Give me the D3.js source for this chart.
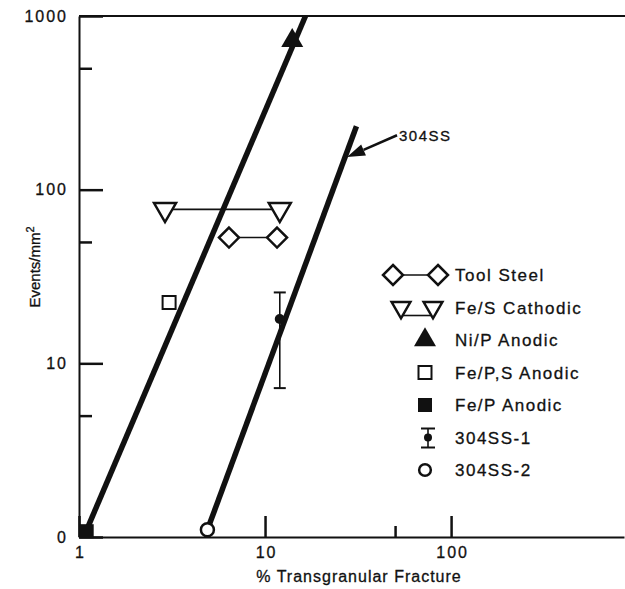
<!DOCTYPE html>
<html>
<head>
<meta charset="utf-8">
<script src="https://cdn.jsdelivr.net/npm/d3@7"></script>
<style>
  body { margin: 0; background: #fff; }
  text { font-family: 'Liberation Sans', Arial, Helvetica, sans-serif; fill: #111; stroke: #111; stroke-width: 0.3px; }
</style>
</head>
<body>
<script>
const width = 625
const height = 589

// tick values and labels
const xTicks = [1, 10, 100]
const xTickLabels = ['1', '10', '100']
const xMinorTicks = [50]
const yTicks = [1, 10, 100, 1000]
const yTickLabels = ['0', '10', '100', '1000']
const yMinorTicks = [5, 50, 500]

// series (x = % transgranular fracture, y = events/mm2)
const toolSteel = [{ x: 6.4, y: 53 }, { x: 11.6, y: 53 }]
const feSCathodic = [{ x: 2.9, y: 77 }, { x: 12, y: 77 }]
const niPAnodic = [{ x: 14, y: 720 }]
const fePSAnodic = [{ x: 3.05, y: 22.4 }]
const fePAnodic = [{ x: 1.1, y: 1.08 }]
const ss304One = [{ x: 12, y: 18, lo: 7.2, hi: 25.6 }]
const ss304Two = [{ x: 4.9, y: 1.1 }]

// fitted lines
const fitLines = [
  [{ x: 1.1, y: 1.1 }, { x: 16.5, y: 1000 }],
  [{ x: 4.9, y: 1.1 }, { x: 31, y: 232 }]
]

// annotation: arrow tip on the 304SS line, label at the tail
const notes = [{ label: '304SS', x: 27.6, y: 154, tx: 52.5, ty: 203 }]

const legendItems = [
  { name: 'Tool Steel', sym: 'diamondPair' },
  { name: 'Fe/S Cathodic', sym: 'triDownPair' },
  { name: 'Ni/P Anodic', sym: 'triUp' },
  { name: 'Fe/P,S Anodic', sym: 'square' },
  { name: 'Fe/P Anodic', sym: 'squareFilled' },
  { name: '304SS-1', sym: 'errDot' },
  { name: '304SS-2', sym: 'circle' }
]

const ink = '#111'

let svg = d3.select('body').append('svg')
  .attr('width', width)
  .attr('height', height)

const x = d3.scaleLog().domain([1, 850]).range([79, 624])
const y = d3.scaleLog().domain([1, 1000]).range([537, 16])

// top border
svg.append('line')
  .attr('x1', x.range()[0]).attr('x2', width)
  .attr('y1', y(1000)).attr('y2', y(1000))
  .attr('stroke', ink).attr('stroke-width', 2)

// axes
let xAxis = svg.append('g')
  .attr('transform', `translate(0,${y(1)})`)
  .call(d3.axisBottom(x).tickValues(xTicks).tickSize(-21).tickSizeOuter(0)
    .tickPadding(10).tickFormat((d, i) => xTickLabels[i]))
svg.append('g')
  .attr('transform', `translate(0,${y(1)})`)
  .call(d3.axisBottom(x).tickValues(xMinorTicks).tickSize(-11).tickSizeOuter(0)
    .tickFormat(''))
  .select('.domain').remove()

let yAxis = svg.append('g')
  .attr('transform', `translate(${x(1)},0)`)
  .call(d3.axisLeft(y).tickValues(yTicks).tickSize(-24).tickSizeOuter(0)
    .tickPadding(11).tickFormat((d, i) => yTickLabels[i]))
svg.append('g')
  .attr('transform', `translate(${x(1)},0)`)
  .call(d3.axisLeft(y).tickValues(yMinorTicks).tickSize(-13).tickSizeOuter(0)
    .tickFormat(''))
  .select('.domain').remove()

svg.selectAll('.domain').attr('stroke', ink).attr('stroke-width', 2)
svg.selectAll('.tick line').attr('stroke', ink).attr('stroke-width', 2.5)
svg.selectAll('.tick text')
  .style('font-size', '16px')
  .style('letter-spacing', '2px')
  .attr('fill', ink)
xAxis.selectAll('.tick text').attr('dx', '1px')

// axis titles
svg.append('text')
  .attr('x', 359).attr('y', 582)
  .attr('text-anchor', 'middle')
  .style('font-size', '16px')
  .style('letter-spacing', '1px')
  .text('% Transgranular Fracture')

let yTitle = svg.append('text')
  .attr('transform', 'translate(40,267) rotate(-90)')
  .attr('text-anchor', 'middle')
  .style('font-size', '15px')
yTitle.append('tspan').text('Events/mm')
yTitle.append('tspan').attr('dy', -6).style('font-size', '11px').text('2')

// fitted lines
const line = d3.line().x((d) => x(d.x)).y((d) => y(d.y))
svg.append('g').selectAll('path')
  .data(fitLines)
  .enter()
  .append('path')
  .attr('d', line)
  .attr('fill', 'none')
  .attr('stroke', ink)
  .attr('stroke-width', 5.5)

// symbol drawing
function drawSym (g, type, cx, cy, s = 1) {
  if (type === 'diamond') {
    const r = 10 * s
    g.append('path')
      .attr('d', `M${cx},${cy - r}L${cx + r},${cy}L${cx},${cy + r}L${cx - r},${cy}Z`)
      .attr('fill', '#fff').attr('stroke', ink).attr('stroke-width', 2.5)
  } else if (type === 'triDown') {
    const w = 11 * s
    const h = 19 * s
    g.append('path')
      .attr('d', `M${cx - w},${cy - h / 3}L${cx + w},${cy - h / 3}L${cx},${cy + 2 * h / 3}Z`)
      .attr('fill', '#fff').attr('stroke', ink).attr('stroke-width', 2.5)
      .attr('stroke-linejoin', 'miter')
  } else if (type === 'triUp') {
    const w = 11 * s
    const h = 19 * s
    g.append('path')
      .attr('d', `M${cx - w},${cy + h / 3}L${cx + w},${cy + h / 3}L${cx},${cy - 2 * h / 3}Z`)
      .attr('fill', ink)
  } else if (type === 'square') {
    g.append('rect')
      .attr('x', cx - 6.5).attr('y', cy - 6.5).attr('width', 13).attr('height', 13)
      .attr('fill', '#fff').attr('stroke', ink).attr('stroke-width', 2)
  } else if (type === 'squareFilled') {
    g.append('rect')
      .attr('x', cx - 7).attr('y', cy - 7).attr('width', 14).attr('height', 14)
      .attr('fill', ink)
  } else if (type === 'circle') {
    g.append('circle')
      .attr('cx', cx).attr('cy', cy).attr('r', 6.5 * s)
      .attr('fill', '#fff').attr('stroke', ink).attr('stroke-width', 2.5)
  } else if (type === 'dot') {
    g.append('circle')
      .attr('cx', cx).attr('cy', cy).attr('r', 5 * s)
      .attr('fill', ink)
  }
}

function drawPair (g, data, type) {
  g.append('line')
    .attr('x1', x(data[0].x)).attr('x2', x(data[1].x))
    .attr('y1', y(data[0].y)).attr('y2', y(data[1].y))
    .attr('stroke', ink).attr('stroke-width', 1.6)
  data.forEach((d) => drawSym(g, type, x(d.x), y(d.y)))
}

let marks = svg.append('g')
drawPair(marks, feSCathodic, 'triDown')
drawPair(marks, toolSteel, 'diamond')
niPAnodic.forEach((d) => drawSym(marks, 'triUp', x(d.x), y(d.y)))
fePSAnodic.forEach((d) => drawSym(marks, 'square', x(d.x), y(d.y)))
fePAnodic.forEach((d) => drawSym(marks, 'squareFilled', x(d.x), y(d.y)))
ss304Two.forEach((d) => drawSym(marks, 'circle', x(d.x), y(d.y)))
ss304One.forEach((d) => {
  const cx = x(d.x)
  marks.append('line')
    .attr('x1', cx).attr('x2', cx).attr('y1', y(d.hi)).attr('y2', y(d.lo))
    .attr('stroke', ink).attr('stroke-width', 1.6)
  ;[d.hi, d.lo].forEach((v) => {
    marks.append('line')
      .attr('x1', cx - 6).attr('x2', cx + 6).attr('y1', y(v)).attr('y2', y(v))
      .attr('stroke', ink).attr('stroke-width', 2)
  })
  drawSym(marks, 'dot', cx, y(d.y))
})

// annotation arrow
notes.forEach((n) => {
  const x0 = x(n.tx) - 2
  const y0 = y(n.ty) - 1
  const x1 = x(n.x)
  const y1 = y(n.y)
  const a = Math.atan2(y1 - y0, x1 - x0)
  const len = 18
  const half = 6
  const bx = x1 - len * Math.cos(a)
  const by = y1 - len * Math.sin(a)
  svg.append('line')
    .attr('x1', x0).attr('y1', y0).attr('x2', bx).attr('y2', by)
    .attr('stroke', ink).attr('stroke-width', 2.5)
  svg.append('path')
    .attr('d', `M${x1},${y1}L${bx + half * Math.sin(a)},${by - half * Math.cos(a)}` +
      `L${bx - half * Math.sin(a)},${by + half * Math.cos(a)}Z`)
    .attr('fill', ink)
  svg.append('text')
    .attr('x', x(n.tx)).attr('y', y(n.ty) + 5)
    .style('font-size', '15px')
    .style('letter-spacing', '1.5px')
    .text(n.label)
})

// legend
const legX = 425
const legTextX = 455
const legTop = 275
const legStep = 32.5
let legend = svg.append('g')
legendItems.forEach((item, i) => {
  const cy = legTop + i * legStep
  const g = legend.append('g')
  if (item.sym === 'diamondPair') {
    g.append('line').attr('x1', 393).attr('x2', 438).attr('y1', cy).attr('y2', cy)
      .attr('stroke', ink).attr('stroke-width', 1.6)
    drawSym(g, 'diamond', 393, cy)
    drawSym(g, 'diamond', 438, cy)
  } else if (item.sym === 'triDownPair') {
    g.append('line').attr('x1', 401).attr('x2', 433).attr('y1', cy + 8).attr('y2', cy + 8)
      .attr('stroke', ink).attr('stroke-width', 1.6)
    drawSym(g, 'triDown', 401, cy, 0.85)
    drawSym(g, 'triDown', 433, cy, 0.85)
  } else if (item.sym === 'errDot') {
    g.append('line').attr('x1', legX + 3).attr('x2', legX + 3).attr('y1', cy - 9).attr('y2', cy + 10)
      .attr('stroke', ink).attr('stroke-width', 1.6)
    ;[cy - 9, cy + 10].forEach((v) => {
      g.append('line').attr('x1', legX - 4).attr('x2', legX + 10).attr('y1', v).attr('y2', v)
        .attr('stroke', ink).attr('stroke-width', 2)
    })
    drawSym(g, 'dot', legX + 3, cy, 0.8)
  } else if (item.sym === 'circle') {
    drawSym(g, 'circle', legX, cy, 0.9)
  } else {
    drawSym(g, item.sym, legX, cy)
  }
  g.append('text')
    .attr('x', legTextX).attr('y', cy + 6)
    .style('font-size', '17px')
    .style('letter-spacing', '1.5px')
    .text(item.name)
})
</script>
</body>
</html>
